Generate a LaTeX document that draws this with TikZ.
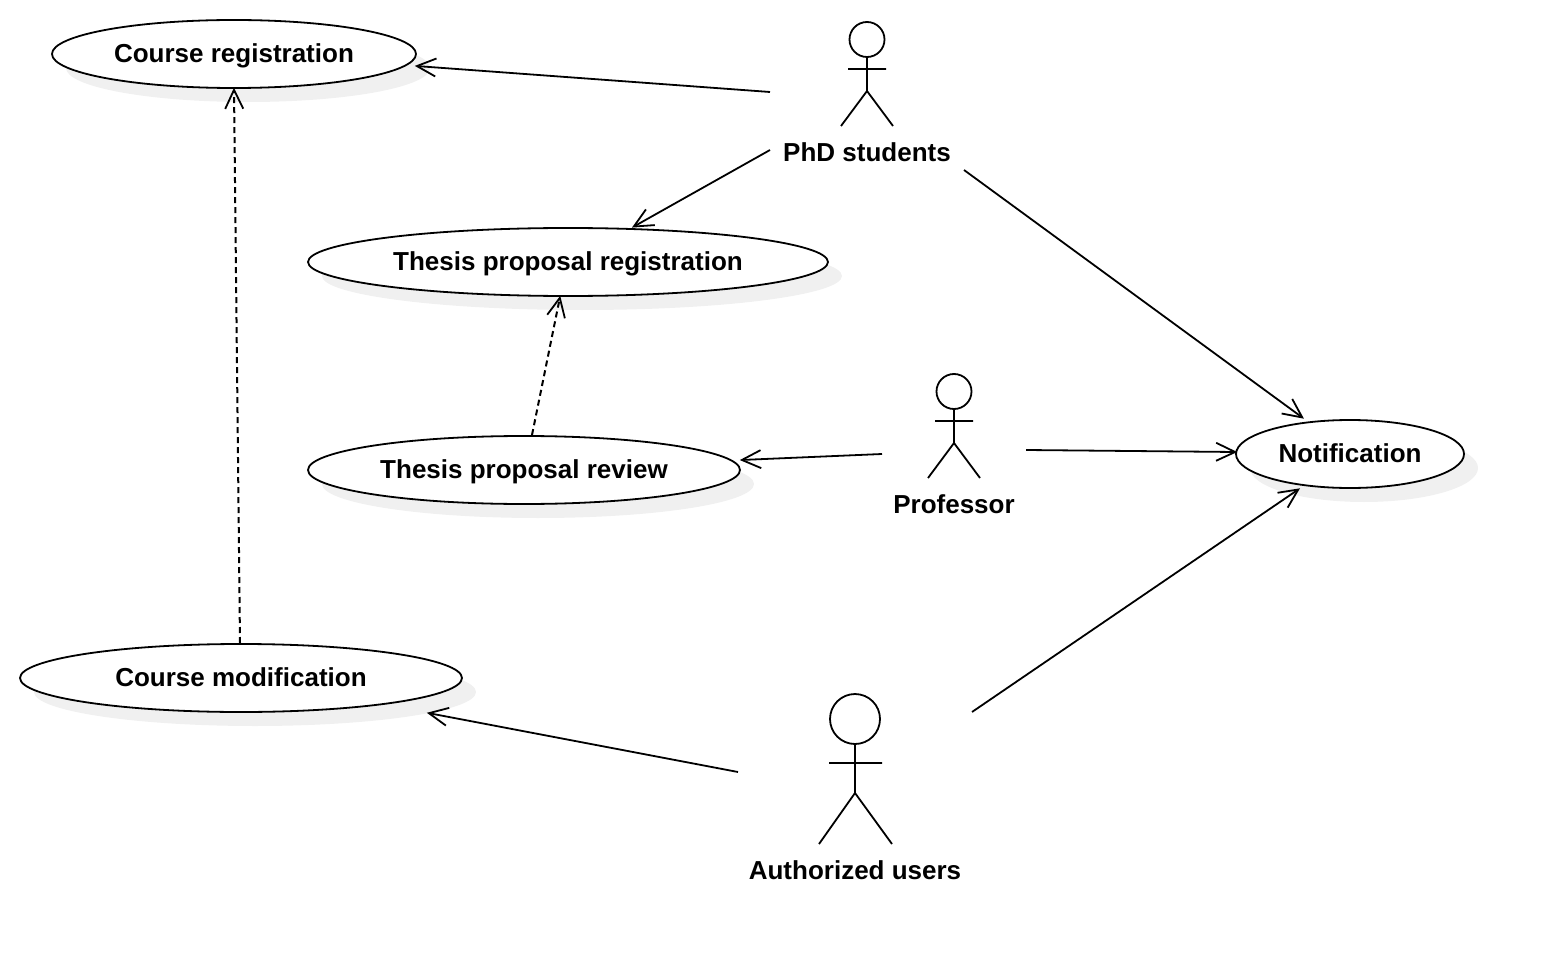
\documentclass[tikz,border=0pt]{standalone}
\usepackage{fontspec}
\setmainfont{Liberation Sans}
\usetikzlibrary{shapes.geometric,arrows.meta}
\tikzset{
  x=1pt,y=-1pt,
  line/.style={line width=1.8pt,black},
  uc/.style={ellipse,draw,line width=1.8pt,fill=white,inner sep=0pt,minimum height=68pt,text=black},
  uclabel/.style={inner sep=0pt,text height=20pt,text depth=3pt,font=\fontsize{26}{31}\selectfont\bfseries,text=black},
  ucshadow/.style={ellipse,fill=shadowgrey,inner sep=0pt,minimum height=68pt},
  head/.style={circle,draw,line width=1.8pt,inner sep=0pt},
  actorlabel/.style={font=\fontsize{26}{31}\selectfont\bfseries,text=black,inner sep=0pt},
  assoc/.style={line,shorten >=-1.2pt,-{Straight Barb[length=19pt,width=18pt,line width=1.8pt]}},
  dep/.style={assoc,line width=2pt,dash pattern=on 6pt off 4pt},
}
\definecolor{shadowgrey}{HTML}{F0F0F0}
\begin{document}
\begin{tikzpicture}
\useasboundingbox (0,0) rectangle (1544,976);
% shadows
\node[ucshadow,minimum width=364pt] (crs) at (248,68) {};
\node[ucshadow,minimum width=520pt] (trs) at (582,276) {};
\node[ucshadow,minimum width=432pt] (rvs) at (538,484) {};
\node[ucshadow,minimum width=442pt] (cms) at (255,692) {};
\node[ucshadow,minimum width=228pt] (nos) at (1364,468) {};
% use cases
\node[uc,minimum width=364pt] (cr) at (234,54) {};
\node[uc,minimum width=520pt] (tr) at (568,262) {};
\node[uc,minimum width=432pt] (rv) at (524,470) {};
\node[uc,minimum width=442pt] (cm) at (241,678) {};
\node[uc,minimum width=228pt] (no) at (1350,454) {};
\node[uclabel] (crt) at (cr.center) {Course registration};
\node[uclabel] (trt) at (tr.center) {Thesis proposal registration};
\node[uclabel] (rvt) at (rv.center) {Thesis proposal review};
\node[uclabel] (cmt) at (cm.center) {Course modification};
\node[uclabel] (not) at (no.center) {Notification};
% PhD students
\node[head,minimum size=35pt] (h1) at (867,39.5) {};
\coordinate (hip1) at (867,91);
\coordinate (al1) at (848,69);
\coordinate (ar1) at (886,69);
\coordinate (fl1) at (841,126);
\coordinate (fr1) at (893,126);
\draw[line] (h1.south) -- (hip1) (al1) -- (ar1) (fl1) -- (hip1) -- (fr1);
\node[actorlabel] (l1) at (867,152) {PhD students};
% Professor
\node[head,minimum size=35pt] (h2) at (954,391.5) {};
\coordinate (hip2) at (954,443);
\coordinate (al2) at (935,421);
\coordinate (ar2) at (973,421);
\coordinate (fl2) at (928,478);
\coordinate (fr2) at (980,478);
\draw[line] (h2.south) -- (hip2) (al2) -- (ar2) (fl2) -- (hip2) -- (fr2);
\node[actorlabel] (l2) at (954,504) {Professor};
% Authorized users
\node[head,minimum size=50pt] (h3) at (855,719) {};
\coordinate (hip3) at (855,793);
\coordinate (al3) at (829,763);
\coordinate (ar3) at (882,763);
\coordinate (fl3) at (819,844);
\coordinate (fr3) at (892,844);
\draw[line] (h3.south) -- (hip3) (al3) -- (ar3) (fl3) -- (hip3) -- (fr3);
\node[actorlabel] (l3) at (855,870) {Authorized users};
% free ends
\coordinate (p1) at (770,92);
\coordinate (p2) at (770,150);
\coordinate (p3) at (964,170);
\coordinate (q1) at (882,454);
\coordinate (q2) at (1026,450);
\coordinate (a1) at (738,772);
\coordinate (a2) at (972,712);
\coordinate (cmend) at (428,713);
\coordinate (crend) at (416,66);
\coordinate (trend) at (633,227);
\coordinate (noa) at (1303,418);
\coordinate (nob) at (1236,452);
\coordinate (noc) at (1299,489);
\coordinate (rvend) at (741,460);
\coordinate (rvtop) at (532,435);
\coordinate (trbot) at (560,297);
\coordinate (cmtop) at (240,643);
% connectors
\draw[assoc] (p1) -- (crend);
\draw[assoc] (p2) -- (trend);
\draw[assoc] (p3) -- (noa);
\draw[assoc] (q1) -- (rvend);
\draw[assoc] (q2) -- (nob);
\draw[assoc] (a1) -- (cmend);
\draw[assoc] (a2) -- (noc);
\draw[dep] (cmtop) -- (cr.south);
\draw[dep] (rvtop) -- (trbot);
\end{tikzpicture}
\end{document}
